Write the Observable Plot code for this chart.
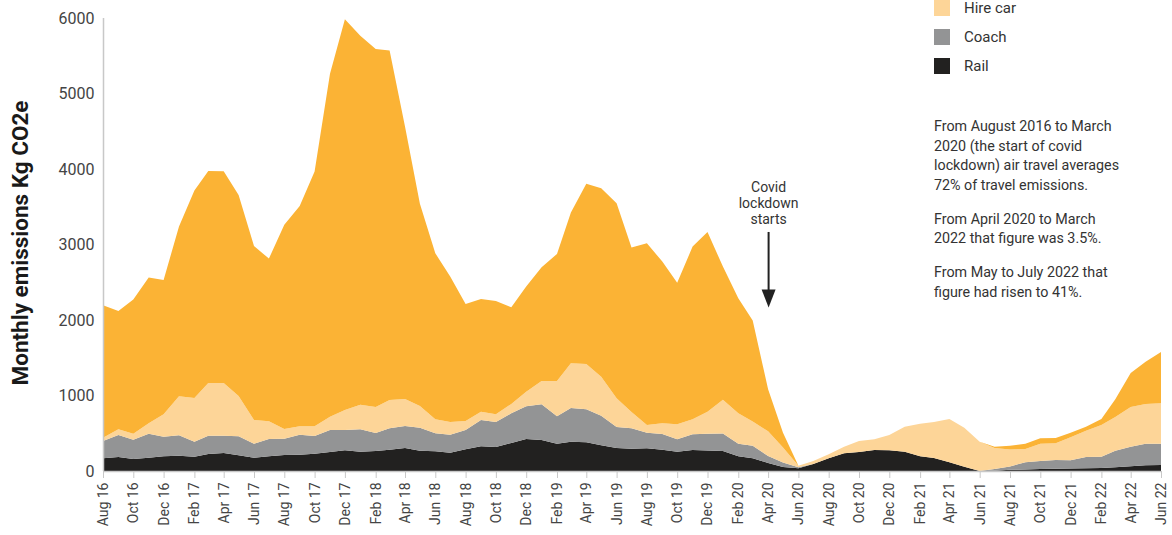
<!DOCTYPE html>
<html>
<head>
<meta charset="utf-8">
<script src="https://cdn.jsdelivr.net/npm/d3@7"></script>
<script src="https://cdn.jsdelivr.net/npm/@observablehq/plot@0.6"></script>
<style>
  html, body { margin: 0; padding: 0; background: #fff; }
  #wrap { position: relative; width: 1172px; height: 535px; overflow: hidden; font-family: Roboto, "Noto Sans", sans-serif; }
  #legend { position: absolute; left: 934px; top: 0px; }
  .item { display: flex; align-items: center; height: 16px; margin-bottom: 13px; font-size: 15px; color: #333; }
  .sw { width: 16px; height: 16px; margin-right: 14px; }
  #notes { position: absolute; left: 934px; top: 117px; width: 190px; font-size: 14.3px; line-height: 19.5px; color: #333; }
  #notes p { margin: 0 0 14.5px 0; }
</style>
</head>
<body>
<div id="wrap">
  <div id="chart"></div>
  <div id="legend"></div>
  <div id="notes"></div>
</div>
<script>
// ---- data ----
const startMonth = new Date(Date.UTC(2016, 7, 1)); // Aug 2016
const endMonth = new Date(Date.UTC(2022, 5, 1));   // Jun 2022
const months = d3.utcMonth.range(startMonth, d3.utcMonth.offset(endMonth, 1));

const seriesNames = ["Air", "Hire car", "Coach", "Rail"];
const seriesColors = ["#fbb335", "#fdd598", "#939495", "#222120"];
const stackOrder = ["Rail", "Coach", "Hire car", "Air"];
const legendShown = ["Hire car", "Coach", "Rail"]; // Air entry is cropped off in the original

const rail = [168,186,159,177,194,203,190,225,238,208,
  177,194,212,216,230,252,274,256,265,283,
  305,269,261,243,287,327,318,371,424,411,
  362,389,380,340,305,296,300,283,256,278,
  272,265,197,170,106,53,35,93,168,234,
  252,278,274,256,194,172,115,57,0,4,
  15,20,26,30,33,38,40,50,62,75,80];
const coach = [229,291,256,318,261,270,199,243,230,251,
  185,230,216,265,234,291,269,296,239,282,
  291,305,238,238,256,349,331,393,433,472,
  362,446,437,393,278,269,208,207,164,208,
  223,232,163,163,94,59,15,0,0,0,
  0,0,0,0,0,0,0,0,0,21,
  45,95,106,116,111,148,150,219,258,285,280];
const hireCar = [45,75,80,137,296,516,578,698,698,535,
  314,234,128,111,128,177,265,327,344,376,
  358,287,186,168,120,110,102,124,194,310,
  469,592,601,517,380,217,102,142,199,199,
  291,448,404,321,325,199,20,39,53,88,
  146,142,203,331,433,477,574,517,389,280,
  225,176,228,220,302,348,419,446,528,528,537];
const air = [1753,1568,1775,1930,1780,2248,2747,2809,2805,2663,
  2305,2155,2704,2919,3374,4540,5177,4885,4743,4628,
  3608,2679,2199,1926,1550,1493,1501,1281,1392,1506,
  1682,1996,2385,2495,2584,2177,2407,2142,1876,2287,
  2381,1762,1524,1338,557,197,0,0,0,0,
  0,0,0,0,0,0,0,0,0,17,
  49,69,73,71,62,53,80,235,450,560,680];

const yTicks = [0, 1000, 2000, 3000, 4000, 5000, 6000];
const xTicks = months.filter((d, i) => i % 2 === 0);

const yLabel = "Monthly emissions Kg CO2e";
const covidDate = new Date(Date.UTC(2020, 3, 1)); // Apr 2020
const covidText = "Covid\nlockdown\nstarts";
const covidTextY = 3860, arrowTop = 3166, arrowShaftEnd = 2330, arrowTip = 2172;

const notes = [
  "From August 2016 to March 2020 (the start of covid lockdown) air travel averages 72% of travel emissions.",
  "From April 2020 to March 2022 that figure was 3.5%.",
  "From May to July 2022 that figure had risen to 41%."
];

// ---- build table ----
const valuesBySeries = {"Rail": rail, "Coach": coach, "Hire car": hireCar, "Air": air};
const rows = [];
for (const s of stackOrder) {
  valuesBySeries[s].forEach((v, i) => rows.push({date: months[i], series: s, value: v}));
}

const arrowHead = {
  draw(ctx) {
    ctx.moveTo(-7, -18);
    ctx.lineTo(7, -18);
    ctx.lineTo(0, 0);
    ctx.closePath();
  }
};

const chart = Plot.plot({
  width: 1172,
  height: 535,
  marginLeft: 103,
  marginRight: 11,
  marginTop: 18,
  marginBottom: 64,
  style: {fontFamily: "Roboto, 'Noto Sans', sans-serif", background: "transparent", overflow: "visible"},
  x: {type: "utc", domain: [startMonth, endMonth]},
  y: {domain: [0, 6000]},
  color: {domain: seriesNames, range: seriesColors},
  marks: [
    Plot.areaY(rows, {x: "date", y: "value", z: "series", fill: "series", order: stackOrder}),
    Plot.ruleY([0], {stroke: "#c8c8c8", strokeWidth: 1.5}),
    Plot.ruleX([startMonth], {y1: 0, y2: 6000, stroke: "#c8c8c8", strokeWidth: 1.5}),
    Plot.axisX({ticks: xTicks, tickFormat: d3.utcFormat("%b %y"), tickRotate: -90, tickSize: 7, tickPadding: 4,
      stroke: "#c8c8c8", fill: "#444", fontSize: 14, label: null}),
    Plot.axisY({ticks: yTicks, tickFormat: d => String(d), tickSize: 0, tickPadding: 9, fill: "#444", fontSize: 16, label: null}),
    Plot.text([yLabel], {frameAnchor: "left", dx: -83, dy: -2, rotate: -90, textAnchor: "middle", lineAnchor: "middle",
      text: d => d, fontSize: 22.5, fontWeight: "bold", fill: "#1a1a1a"}),
    Plot.text([covidText], {x: () => covidDate, y: () => covidTextY, text: d => d, lineAnchor: "top", fontSize: 14, lineHeight: 1.15, fill: "#333"}),
    Plot.ruleX([covidDate], {y1: arrowTop, y2: arrowShaftEnd, stroke: "#222", strokeWidth: 2}),
    Plot.dot([covidDate], {x: d => d, y: () => arrowTip, symbol: arrowHead, fill: "#222", stroke: "none", r: 5})
  ]
});
document.getElementById("chart").appendChild(chart);

// legend
const legend = document.getElementById("legend");
for (const name of legendShown) {
  const item = document.createElement("div");
  item.className = "item";
  const sw = document.createElement("div");
  sw.className = "sw";
  sw.style.background = seriesColors[seriesNames.indexOf(name)];
  const lab = document.createElement("span");
  lab.textContent = name;
  item.appendChild(sw);
  item.appendChild(lab);
  legend.appendChild(item);
}
// notes
const notesDiv = document.getElementById("notes");
for (const n of notes) {
  const p = document.createElement("p");
  p.textContent = n;
  notesDiv.appendChild(p);
}
</script>
</body>
</html>
